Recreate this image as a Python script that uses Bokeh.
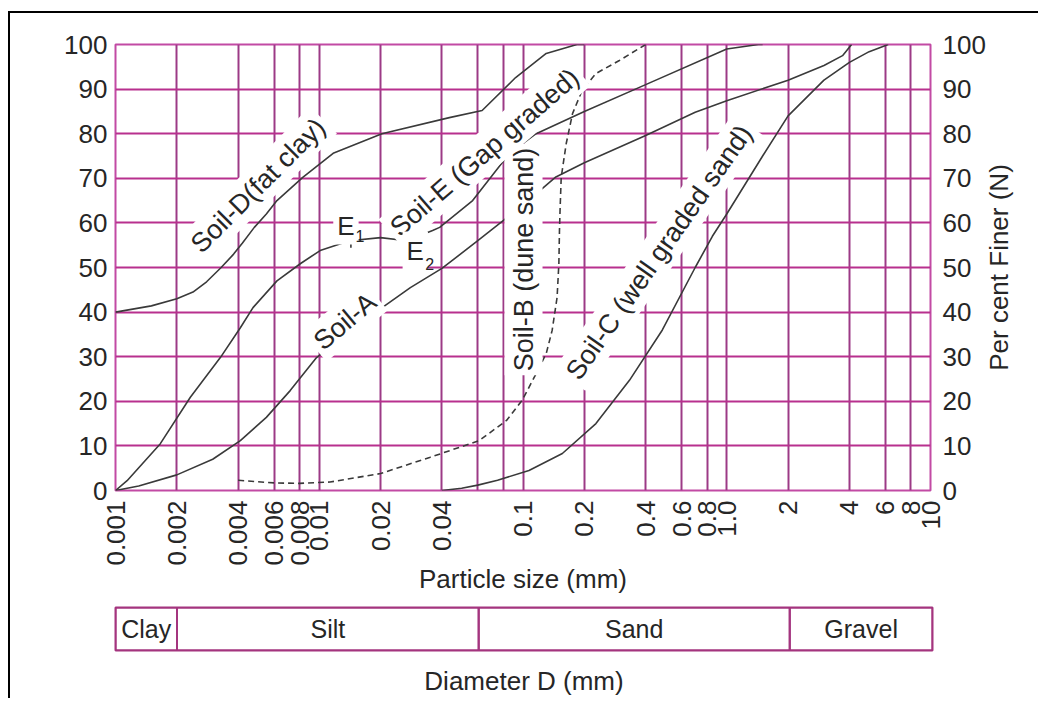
import math
from bokeh.plotting import figure
from bokeh.models import FixedTicker, LinearAxis, Range1d, Label
from bokeh.layouts import column, row
from bokeh.embed import file_html
from bokeh.resources import INLINE
from bokeh.core.properties import value

# ---------------- data ----------------
x_ticks = [0.001, 0.002, 0.004, 0.006, 0.008, 0.01, 0.02, 0.04, 0.06, 0.08,
           0.1, 0.2, 0.4, 0.6, 0.8, 1.0, 2, 4, 6, 8, 10]
x_tick_labels = ["0.001", "0.002", "0.004", "0.006", "0.008", "0.01", "0.02", "0.04", "", "",
                 "0.1", "0.2", "0.4", "0.6", "0.8", "1.0", "2", "4", "6", "8", "10"]
y_ticks = [0, 10, 20, 30, 40, 50, 60, 70, 80, 90, 100]

soil_a_x = [0.001, 0.0013, 0.002, 0.003, 0.0041, 0.0055, 0.0072, 0.0097, 0.0141, 0.0198,
            0.028, 0.04, 0.06, 0.1, 0.145, 0.2, 0.4, 0.7, 1.0, 2.0, 3.0, 3.7, 4.1]
soil_a_y = [0, 1, 3.5, 7, 11.2, 16.4, 22.4, 29.8, 35.5, 40.6,
            45.5, 49.8, 56, 64, 70.3, 73.5, 79.6, 84.8, 87.4, 92, 95.3, 97.5, 100]

soil_b_x = [0.004, 0.006, 0.008, 0.0113, 0.02, 0.0348, 0.061, 0.083, 0.099, 0.116, 0.130,
            0.139, 0.147, 0.150, 0.151, 0.152, 0.154, 0.163, 0.175, 0.195, 0.228, 0.297, 0.4]
soil_b_y = [2.3, 1.7, 1.6, 1.9, 3.8, 7.4, 11.2, 15.7, 20.2, 26.2, 30.7,
            35.9, 43.3, 50.9, 58.3, 62.8, 70.2, 77.8, 84.5, 89.7, 93.5, 96.4, 100]

soil_c_x = [0.04, 0.05, 0.06, 0.075, 0.107, 0.156, 0.228, 0.333, 0.483, 0.7, 0.85,
            1.0, 1.5, 2.0, 3.0, 4.0, 5.0, 6.2]
soil_c_y = [0, 0.5, 1.2, 2.3, 4.5, 8.3, 15, 24.7, 36, 50, 57,
            62, 75, 84, 92, 96, 98.4, 100]

soil_d_x = [0.001, 0.0015, 0.002, 0.0024, 0.0028, 0.0033, 0.0038, 0.0042, 0.0048, 0.0055,
            0.0062, 0.0083, 0.0117, 0.0203, 0.0435, 0.063, 0.092, 0.13, 0.184, 0.2]
soil_d_y = [40, 41.4, 43, 44.5, 46.8, 50, 53, 55.5, 59, 62,
            65, 70.2, 75.6, 80, 83.6, 85.2, 92.6, 98, 100, 100]

soil_e_x = [0.001, 0.00114, 0.00166, 0.00233, 0.00327, 0.0041, 0.00473, 0.0062, 0.0081, 0.0101,
            0.0141, 0.02, 0.0269, 0.036, 0.039, 0.0566, 0.0859, 0.116, 0.2, 0.4, 1.0, 1.43, 1.5]
soil_e_y = [0, 2.2, 10.5, 20.9, 29.8, 36.5, 41, 47, 50.9, 53.8,
            56, 56.7, 56, 58.3, 59, 65, 75.6, 80, 85, 91, 99, 100, 100]

event_x = [0.0143, 0.0272]   # E1, E2 on Soil-E
event_y = [56, 56]

classes = ["Clay", "Silt", "Sand", "Gravel"]
class_left = [0.001, 0.002, 0.06, 2]
class_right = [0.002, 0.06, 2, 10]

# ---------------- style ----------------
FONT = "Liberation Sans"
TEXT = "#262626"
CURVE = "#3a3a3a"
GRID_H = "#b8308e"
GRID_V = "#9c3a86"
BAND = "#a4357f"

p = figure(width=978, height=584, x_axis_type="log",
           x_range=Range1d(0.001, 10), y_range=Range1d(0, 100),
           output_backend="svg", toolbar_location=None,
           min_border_left=105, min_border_right=56,
           min_border_top=31, min_border_bottom=107)
p.background_fill_color = "white"
p.border_fill_color = "white"
p.outline_line_color = "#c24aa4"
p.outline_line_width = 2

p.xgrid.ticker = FixedTicker(ticks=x_ticks)
p.ygrid.ticker = FixedTicker(ticks=y_ticks)
p.xgrid.grid_line_color = GRID_V
p.xgrid.grid_line_width = 2
p.ygrid.grid_line_color = GRID_H
p.ygrid.grid_line_width = 2

xa = p.xaxis[0]
xa.ticker = FixedTicker(ticks=x_ticks)
xa.major_label_overrides = dict(zip(x_ticks, x_tick_labels))
xa.major_label_orientation = math.pi / 2
xa.axis_line_color = None
xa.major_tick_line_color = None
xa.minor_tick_line_color = None
xa.major_tick_out = 0
xa.major_tick_in = 0
xa.major_label_standoff = 10
xa.major_label_text_font = FONT
xa.major_label_text_font_size = "26px"
xa.major_label_text_color = TEXT
xa.axis_label = "Particle size (mm)"
xa.axis_label_text_font = FONT
xa.axis_label_text_font_size = "26px"
xa.axis_label_text_font_style = "normal"
xa.axis_label_text_color = TEXT
xa.axis_label_standoff = -5

ya = p.yaxis[0]
ra = LinearAxis()
p.add_layout(ra, "right")
for ax, so in ((ya, 8), (ra, 12)):
    ax.ticker = FixedTicker(ticks=y_ticks)
    ax.axis_line_color = None
    ax.major_tick_line_color = None
    ax.minor_tick_line_color = None
    ax.major_tick_out = 0
    ax.major_tick_in = 0
    ax.major_label_standoff = so
    ax.major_label_text_font = FONT
    ax.major_label_text_font_size = "26px"
    ax.major_label_text_color = TEXT

# curves
p.line(soil_a_x, soil_a_y, line_color=CURVE, line_width=1.6)
p.line(soil_b_x, soil_b_y, line_color=CURVE, line_width=1.6, line_dash="6 4")
p.line(soil_c_x, soil_c_y, line_color=CURVE, line_width=1.6)
p.line(soil_d_x, soil_d_y, line_color=CURVE, line_width=1.6)
p.line(soil_e_x, soil_e_y, line_color=CURVE, line_width=1.6)
p.scatter(event_x, event_y, marker="dash", angle=math.pi / 2, size=14,
          line_color=CURVE, line_width=1.6)

def add_label(text, x, y, angle, size="27px", bg=True):
    lab = Label(x=x, y=y, text=text, angle=angle, angle_units="deg",
                text_align="center", text_baseline="middle",
                text_font=FONT, text_font_size=size, text_color=TEXT)
    if bg:
        lab.background_fill_color = "white"
        lab.padding = 4
    p.add_layout(lab)

add_label("Soil-D(fat clay)", 0.00501, 68.4, 45)
add_label("Soil-E (Gap graded)", 0.0648, 75.8, 41)
add_label("Soil-A", 0.01337, 37.9, 40)
add_label("Soil-B (dune sand)", 0.1006, 51.8, 90)
add_label("Soil-C (well graded sand)", 0.465, 53.4, 55)
add_label("E", 0.01352, 59.4, 0, size="26px")
add_label("1", 0.01586, 57.0, 0, size="16px", bg=False)
add_label("E", 0.0296, 53.8, 0, size="26px")
add_label("2", 0.0348, 50.7, 0, size="16px", bg=False)

# ---------------- right-hand axis title (reads bottom to top) ----------------
side = figure(width=50, height=584, x_range=Range1d(0, 1), y_range=Range1d(0, 100),
              output_backend="svg", toolbar_location=None,
              min_border_left=30, min_border_right=5,
              min_border_top=31, min_border_bottom=107,
              styles={"margin-left": "-8px"})
side.outline_line_color = None
side.background_fill_color = None
side.border_fill_color = None
side.grid.visible = False
side.xaxis.visible = False
sa = side.yaxis[0]
sa.ticker = FixedTicker(ticks=[])
sa.axis_line_color = None
sa.major_tick_line_color = None
sa.minor_tick_line_color = None
sa.major_tick_out = 0
sa.major_tick_in = 0
sa.major_label_text_font_size = "0px"
sa.axis_label = "Per cent Finer (N)"
sa.axis_label_text_font = FONT
sa.axis_label_text_font_size = "26px"
sa.axis_label_text_font_style = "normal"
sa.axis_label_text_color = TEXT
sa.axis_label_standoff = 3

# ---------------- classification band ----------------
p2 = figure(width=1028, height=101, x_axis_type="log",
            x_range=Range1d(0.001, 10), y_range=Range1d(0, 1),
            output_backend="svg", toolbar_location=None,
            min_border_left=105, min_border_right=106,
            min_border_top=10, min_border_bottom=46)
p2.background_fill_color = "white"
p2.border_fill_color = "white"
p2.outline_line_color = BAND
p2.outline_line_width = 2
p2.grid.visible = False
p2.yaxis.visible = False
p2.quad(left=class_left, right=class_right, bottom=0, top=1,
        fill_color=None, line_color=BAND, line_width=2)
class_mid = [math.sqrt(a * b) for a, b in zip(class_left, class_right)]
p2.text(x=class_mid, y=[0.5] * len(classes), text=classes,
        text_align="center", text_baseline="middle",
        text_font=value(FONT), text_font_size=value("25px"), text_color=TEXT)
xb = p2.xaxis[0]
xb.ticker = FixedTicker(ticks=[])
xb.axis_line_color = None
xb.major_tick_line_color = None
xb.minor_tick_line_color = None
xb.major_tick_out = 0
xb.major_tick_in = 0
xb.major_label_text_font_size = "0px"
xb.axis_label = "Diameter D (mm)"
xb.axis_label_text_font = FONT
xb.axis_label_text_font_size = "26px"
xb.axis_label_text_font_style = "normal"
xb.axis_label_text_color = TEXT
xb.axis_label_standoff = 15

layout = column(row(p, side), p2,
                styles={"border-left": "2px solid black",
                        "border-top": "2px solid black",
                        "margin-top": "11px",
                        "margin-left": "8px"})

open("out.html", "w").write(file_html(layout, INLINE))
